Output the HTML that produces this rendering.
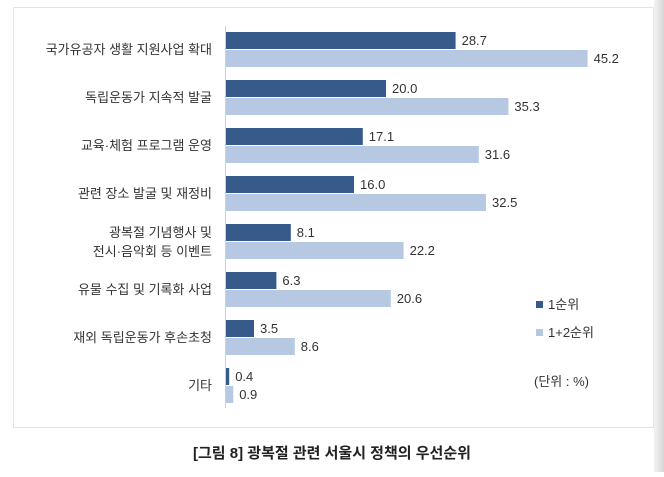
<!DOCTYPE html>
<html><head><meta charset="utf-8"><style>
body{margin:0;width:664px;height:472px;background:#fff;overflow:hidden;font-family:"Liberation Sans","Noto Sans CJK KR",sans-serif;}
</style></head><body>
<svg width="664" height="472">
<defs><linearGradient id="g" x1="0" x2="1"><stop offset="0" stop-color="#f2f2f2"/><stop offset="1" stop-color="#d8d8d8"/></linearGradient></defs>
<rect x="654" y="0" width="10" height="472" fill="url(#g)"/>
<rect x="13.5" y="7.5" width="640" height="420" fill="#fff" stroke="#e4e4e4"/>
<line x1="225.5" y1="26" x2="225.5" y2="408" stroke="#d0d0d0"/>
<g id="bars"></g>
<rect x="536" y="301" width="7" height="7" fill="#365a8a"/>
<text x="548" y="309" font-size="13" fill="#333">1순위</text>
<rect x="536" y="329" width="7" height="7" fill="#b7c9e2"/>
<text x="548" y="337" font-size="13" fill="#333">1+2순위</text>
<text x="534" y="386" font-size="13" fill="#333">(단위 : %)</text>
<text x="332" y="458" font-size="15" font-weight="bold" fill="#222" text-anchor="middle">[그림 8] 광복절 관련 서울시 정책의 우선순위</text>
</svg>
<script>
const categories=[["국가유공자 생활 지원사업 확대"],["독립운동가 지속적 발굴"],["교육·체험 프로그램 운영"],["관련 장소 발굴 및 재정비"],["광복절 기념행사 및","전시·음악회 등 이벤트"],["유물 수집 및 기록화 사업"],["재외 독립운동가 후손초청"],["기타"]];
const rank1=[28.7,20.0,17.1,16.0,8.1,6.3,3.5,0.4];
const rank12=[45.2,35.3,31.6,32.5,22.2,20.6,8.6,0.9];
const x0=226,scale=8.0,top0=32,step=48,bh=17;
const xs=v=>v*scale;
const g=document.getElementById('bars');
const ns="http://www.w3.org/2000/svg";
function mk(t,a){const e=document.createElementNS(ns,t);for(const k in a)e.setAttribute(k,a[k]);g.appendChild(e);return e;}
categories.forEach((c,i)=>{
  const y=top0+i*step;
  const b1=mk('rect',{x:x0,y:y,width:xs(rank1[i]),height:bh,fill:'#365a8a'});
  
  
  const b2=mk('rect',{x:x0,y:y+bh+1,width:xs(rank12[i]),height:bh,fill:'#b7c9e2'});
  
  
  const t1=mk('text',{x:x0+xs(rank1[i])+6,y:y+13,'font-size':13,fill:'#333'});
  t1.textContent=rank1[i].toFixed(1);
  
  
  const t2=mk('text',{x:x0+xs(rank12[i])+6,y:y+bh+14,'font-size':13,fill:'#333'});
  t2.textContent=rank12[i].toFixed(1);
  
  
  const cy=y+bh;
  c.forEach((line,j)=>{
    const ty=c.length===1?cy+5:cy-4+j*19;
    const l=mk('text',{x:212,y:ty,'font-size':13,fill:'#333','text-anchor':'end'});
    l.textContent=line;
    
    
  });
});
</script>
</body></html>
